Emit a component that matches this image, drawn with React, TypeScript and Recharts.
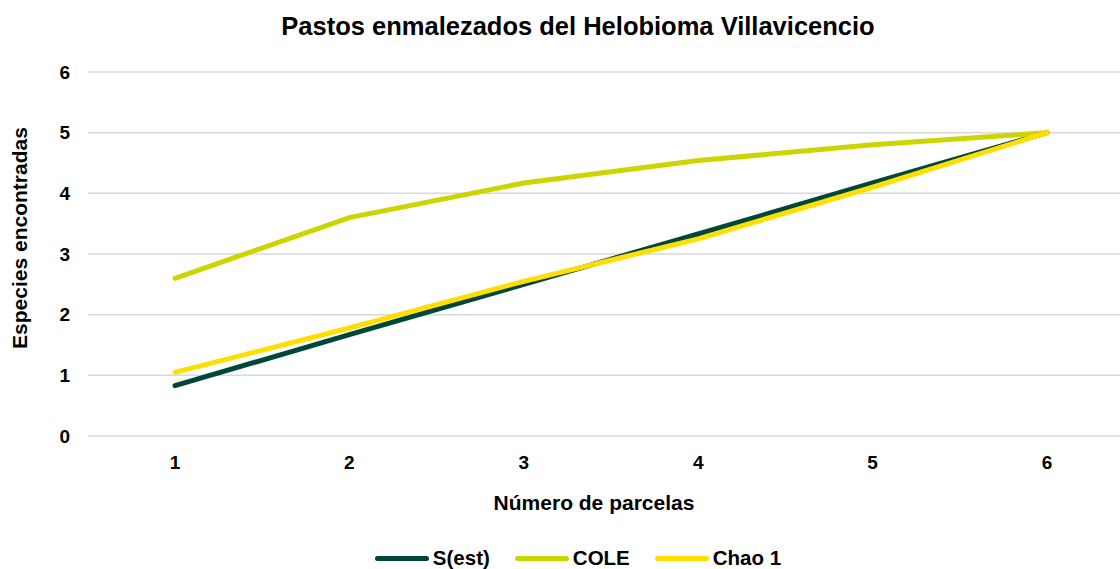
import React from 'react'
import {
  LineChart, Line, XAxis, YAxis, CartesianGrid, Legend, Label,
} from 'recharts'

const parcelas = ['1', '2', '3', '4', '5', '6']
const sEst = [0.83, 1.67, 2.5, 3.33, 4.17, 5]
const cole = [2.6, 3.6, 4.17, 4.54, 4.8, 5]
const chao1 = [1.05, 1.78, 2.55, 3.25, 4.1, 5]
const yTicks = [0, 1, 2, 3, 4, 5, 6]

const SERIES = [
  { key: 'sEst', name: 'S(est)', color: '#00473A' },
  { key: 'cole', name: 'COLE', color: '#CCD500' },
  { key: 'chao1', name: 'Chao 1', color: '#FFDE00' },
]

const data = parcelas.map((p, i) => ({
  parcela: p,
  sEst: sEst[i],
  cole: cole[i],
  chao1: chao1[i],
}))

const FONT = '"Liberation Sans", Arial, sans-serif'

const LegendContent = () => (
  <div
    style={{
      height: 53, display: 'flex', justifyContent: 'center', alignItems: 'flex-end',
      boxSizing: 'border-box',
    }}
  >
    <div style={{ display: 'flex', alignItems: 'center', height: 22, marginBottom: 0, marginLeft: 22 }}>
      {SERIES.map((s, i) => (
        <div key={s.key} style={{ display: 'flex', alignItems: 'center', marginRight: i < SERIES.length - 1 ? 25 : 0 }}>
          <span
            style={{
              display: 'inline-block', width: 54, height: 5, borderRadius: 3,
              background: s.color, marginRight: 4,
            }}
          />
          <span style={{ fontFamily: FONT, fontWeight: 700, fontSize: 20.5, lineHeight: '22px', color: '#000' }}>
            {s.name}
          </span>
        </div>
      ))}
    </div>
  </div>
)

export default function App() {
  return (
    <div style={{ position: 'absolute', left: 0, top: 0, width: 1120, height: 569, overflow: 'hidden', background: '#fff' }}>
      <div
        style={{
          position: 'absolute', top: 10, left: 0, width: 1156, textAlign: 'center',
          fontFamily: FONT, fontWeight: 700, fontSize: 25.5, color: '#000', lineHeight: '32px',
        }}
      >
        Pastos enmalezados del Helobioma Villavicencio
      </div>
      <LineChart
        width={1134}
        height={569}
        data={data}
        margin={{ top: 72, right: 0, left: 0, bottom: 0 }}
      >
        <CartesianGrid vertical={false} stroke="#D9D9D9" strokeWidth={1.5} />
        <XAxis
          dataKey="parcela"
          height={80}
          padding={{ left: 87, right: 87 }}
          axisLine={false}
          tickLine={false}
          tickMargin={14}
          tick={{ fill: '#000', fontSize: 19, fontWeight: 700, fontFamily: FONT }}
        >
          <Label
            content={() => (
              <text
                x={594}
                y={510}
                textAnchor="middle"
                style={{ fontFamily: FONT, fontWeight: 700, fontSize: 21, fill: '#000' }}
              >
                Número de parcelas
              </text>
            )}
          />
        </XAxis>
        <YAxis
          width={88}
          domain={[0, 6]}
          ticks={yTicks}
          axisLine={false}
          tickLine={false}
          tickMargin={12}
          tick={{ fill: '#000', fontSize: 19, fontWeight: 700, fontFamily: FONT }}
        >
          <Label
            content={() => (
              <text
                x={27}
                y={238}
                textAnchor="middle"
                transform="rotate(-90 27 238)"
                style={{ fontFamily: FONT, fontWeight: 700, fontSize: 21, fill: '#000' }}
              >
                Especies encontradas
              </text>
            )}
          />
        </YAxis>
        <Legend verticalAlign="bottom" content={<LegendContent />} />
        {SERIES.map(s => (
          <Line
            key={s.key}
            dataKey={s.key}
            name={s.name}
            stroke={s.color}
            strokeWidth={5}
            strokeLinecap="round"
            dot={false}
            activeDot={false}
            isAnimationActive={false}
          />
        ))}
      </LineChart>
    </div>
  )
}
